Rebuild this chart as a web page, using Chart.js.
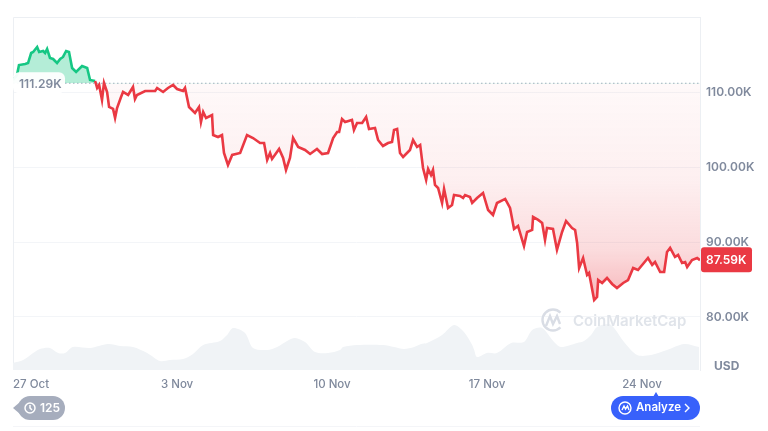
<!DOCTYPE html>
<html>
<head>
<meta charset="utf-8">
<style>
  html, body { margin: 0; padding: 0; background: #fff; overflow: hidden; }
  canvas { display: block; }
</style>
<script src="https://cdn.jsdelivr.net/npm/chart.js@4"></script>
</head>
<body>
<canvas id="grafico" width="768" height="431"></canvas>
<script>
// days since 27 Oct
const priceDays = [-0.41,-0.23,-0.14,0.14,0.27,0.41,0.5,0.68,0.77,0.95,1.04,1.13,1.26,1.4,1.58,1.72,1.85,1.99,2.12,2.26,2.44,2.71,2.94,3.07,3.3,3.39,3.48,3.61,3.7,3.84,3.93,4.11,4.2,4.29,4.47,4.56,4.79,5.01,5.1,5.19,5.56,6.01,6.1,6.37,6.59,6.82,7.0,7.27,7.36,7.54,7.81,7.99,8.08,8.18,8.31,8.58,8.63,8.85,9.03,9.12,9.3,9.49,9.85,10.16,10.43,10.75,10.93,11.07,11.2,11.29,11.61,11.79,11.92,12.1,12.24,12.47,12.78,13.01,13.32,13.55,13.82,14.05,14.23,14.32,14.45,14.59,14.9,14.99,15.13,15.36,15.54,15.67,15.94,16.08,16.3,16.53,16.71,16.8,16.94,17.07,17.21,17.52,17.66,17.84,17.98,18.11,18.25,18.34,18.47,18.56,18.65,18.79,18.97,19.06,19.24,19.42,19.51,19.78,19.92,20.01,20.23,20.33,20.55,20.82,21.05,21.27,21.45,21.82,22.04,22.22,22.4,22.67,22.81,23.04,23.08,23.31,23.49,23.62,23.71,23.98,24.16,24.39,24.57,24.84,24.98,25.07,25.16,25.34,25.52,25.61,25.84,25.97,26.02,26.2,26.42,26.65,26.87,27.15,27.37,27.6,27.82,28.27,28.46,28.59,28.82,29.0,29.13,29.27,29.49,29.63,29.81,29.95,30.04,30.26,30.49,30.62];
// price in thousands of USD
const priceValues = [111.73,112.4,113.73,113.87,114.0,115.34,115.48,116.14,115.48,115.61,115.34,115.88,114.67,114.54,114.0,114.54,114.81,115.61,115.48,113.33,112.8,113.6,113.33,111.73,111.59,110.66,111.06,109.05,111.33,110.12,108.11,107.85,106.64,107.98,109.45,110.12,109.72,110.79,109.18,109.72,110.25,110.25,110.66,110.12,110.66,111.06,110.52,110.25,110.66,108.11,107.31,108.11,106.1,107.44,106.64,107.04,104.36,104.1,104.36,101.95,100.35,101.69,101.95,104.36,103.96,103.29,103.29,101.02,101.95,101.15,102.49,101.29,99.68,101.29,103.96,102.76,102.36,101.82,102.49,101.82,101.95,103.96,104.77,104.77,106.51,106.1,106.37,105.03,105.97,105.97,106.77,105.17,105.3,103.69,102.89,103.29,103.43,105.03,105.17,101.95,101.42,102.36,103.69,102.76,103.03,99.95,98.34,99.81,99.01,99.68,97.67,97.27,95.26,97.14,94.59,94.99,96.33,96.2,95.93,96.33,96.06,95.26,95.93,96.6,94.32,93.65,95.26,95.8,94.59,91.78,92.18,89.5,91.38,91.65,93.39,92.99,92.58,90.31,91.91,91.78,88.97,91.38,92.85,91.91,91.65,89.91,86.56,87.9,85.62,85.89,82.28,82.68,84.95,84.55,85.22,84.42,83.88,84.55,84.95,86.56,86.29,87.9,86.96,87.36,86.02,86.02,88.7,89.24,88.03,88.3,87.23,87.36,86.69,87.63,87.9,87.59];
const baseValue = 111.29;
const lastValue = 87.59;

const volumeDays = [-0.41,0.05,0.5,0.81,1.26,1.63,1.94,2.3,3.07,3.88,4.43,5.01,5.65,6.23,6.68,7.27,7.72,8.18,8.94,9.26,9.53,10.07,10.43,11.07,11.52,11.97,12.33,12.78,13.23,13.82,14.36,14.5,15.13,16.3,16.8,17.25,17.71,18.02,18.29,18.97,19.51,19.96,20.33,20.42,20.55,21.0,21.45,22.09,22.67,23.04,23.49,24.03,24.34,25.07,25.38,25.7,25.97,26.51,26.74,27.19,27.78,28.41,29.13,29.9,30.58];
// volume in billions of USD (estimated, no scale in the picture)
const volumeValues = [14,20,34,42,44,34,34,46,44,52,48,46,34,18,20,22,32,50,58,70,84,74,44,40,46,58,64,56,36,34,40,46,50,50,46,42,46,52,54,70,90,76,50,40,26,34,34,54,56,80,84,56,46,54,58,70,86,92,84,56,30,30,40,52,46,42];

const dateTicks = [0, 7, 14, 21, 28];
const dateLabels = ["27 Oct", "3 Nov", "10 Nov", "17 Nov", "24 Nov"];
const priceTicks = [80, 90, 100, 110];

const verde = "#16c784";
const vermelho = "#ea3943";
const cinza = "#808a9d";
const fonte = "Inter, sans-serif";

function paresXY(xs, ys) {
  return xs.map((x, i) => ({ x: x, y: ys[i] }));
}

function pill(ctx, x, y, w, h, r, cor) {
  ctx.fillStyle = cor;
  ctx.beginPath();
  ctx.roundRect(x, y, w, h, r);
  ctx.fill();
}

// labels, badges and buttons around the plot
const extras = {
  id: "extras",
  afterDraw(chart) {
    const ctx = chart.ctx;
    const sx = chart.scales.x;
    const sy = chart.scales.y;
    ctx.save();
    ctx.textBaseline = "middle";

    // date labels
    ctx.font = "500 11.5px " + fonte;
    ctx.fillStyle = "#7f899c";
    dateTicks.forEach((d, i) => {
      ctx.textAlign = i === 0 ? "left" : "center";
      const px = i === 0 ? chart.chartArea.left : sx.getPixelForValue(d);
      ctx.fillText(dateLabels[i], px, 385);
    });

    // start price badge
    const yBase = sy.getPixelForValue(baseValue);
    pill(ctx, 13, yBase - 11, 52, 21, 6, "rgba(255,255,255,0.95)");
    ctx.font = "600 12px " + fonte;
    ctx.fillStyle = cinza;
    ctx.textAlign = "left";
    ctx.fillText(baseValue.toFixed(2) + "K", 19, yBase + 1);

    // last price tag
    const yLast = sy.getPixelForValue(lastValue);
    pill(ctx, 701, yLast - 13, 51, 25, 3, vermelho);
    ctx.fillStyle = "#fff";
    ctx.font = "600 12px " + fonte;
    ctx.fillText(lastValue.toFixed(2) + "K", 706, yLast);

    // USD
    ctx.fillStyle = cinza;
    ctx.font = "700 12px " + fonte;
    ctx.fillText("USD", 714, 366);

    // watermark
    ctx.strokeStyle = "#d9dde5";
    ctx.lineWidth = 2.4;
    ctx.beginPath();
    ctx.arc(553, 320, 10.5, 0.25 * Math.PI, 1.75 * Math.PI, false);
    ctx.stroke();
    ctx.beginPath();
    ctx.moveTo(546, 326);
    ctx.lineTo(550, 316);
    ctx.lineTo(553, 324);
    ctx.lineTo(557, 316);
    ctx.lineTo(560, 324);
    ctx.stroke();
    ctx.fillStyle = "#e0e4ea";
    ctx.font = "600 15px " + fonte;
    ctx.fillText("CoinMarketCap", 573, 321);

    // history pill
    pill(ctx, 18, 396, 47, 24, 12, "#a6adbd");
    ctx.beginPath();
    ctx.moveTo(13, 408);
    ctx.lineTo(20, 402);
    ctx.lineTo(20, 414);
    ctx.closePath();
    ctx.fill();
    ctx.strokeStyle = "#fff";
    ctx.lineWidth = 1.5;
    ctx.beginPath();
    ctx.arc(30, 408, 5, 0, Math.PI * 2);
    ctx.moveTo(30, 405);
    ctx.lineTo(30, 408);
    ctx.lineTo(32, 410);
    ctx.stroke();
    ctx.fillStyle = "#fff";
    ctx.font = "600 12px " + fonte;
    ctx.fillText("125", 40, 408);

    // analyze button
    pill(ctx, 611, 396, 89, 24, 12, "#3861fb");
    ctx.beginPath();
    ctx.moveTo(653, 397);
    ctx.lineTo(656, 392);
    ctx.lineTo(659, 397);
    ctx.closePath();
    ctx.fill();
    ctx.strokeStyle = "#fff";
    ctx.lineWidth = 1.4;
    ctx.beginPath();
    ctx.arc(625, 408, 6, 0, Math.PI * 2);
    ctx.moveTo(622, 410);
    ctx.lineTo(624, 406);
    ctx.lineTo(625.5, 409);
    ctx.lineTo(627.5, 406);
    ctx.lineTo(629, 410);
    ctx.stroke();
    ctx.beginPath();
    ctx.moveTo(685, 404);
    ctx.lineTo(689, 408);
    ctx.lineTo(685, 412);
    ctx.stroke();
    ctx.fillStyle = "#fff";
    ctx.font = "600 11.5px " + fonte;
    ctx.fillText("Analyze", 636, 408);

    // faint line under the chart
    ctx.strokeStyle = "#f4f5f8";
    ctx.lineWidth = 1;
    ctx.beginPath();
    ctx.moveTo(13, 426.5);
    ctx.lineTo(700, 426.5);
    ctx.stroke();
    ctx.restore();
  },
};

const ctx = document.getElementById("grafico").getContext("2d");

const gradVerm = ctx.createLinearGradient(0, 85, 0, 300);
gradVerm.addColorStop(0, "rgba(234,57,67,0.03)");
gradVerm.addColorStop(0.44, "rgba(234,57,67,0.08)");
gradVerm.addColorStop(0.77, "rgba(234,57,67,0.18)");
gradVerm.addColorStop(1, "rgba(234,57,67,0.36)");

new Chart(ctx, {
  type: "line",
  data: {
    datasets: [
      {
        label: "Price",
        data: paresXY(priceDays, priceValues),
        yAxisID: "y",
        order: 1,
        borderWidth: 2.6,
        borderColor: vermelho,
        segment: {
          borderColor: (c) =>
            c.p0.parsed.y >= baseValue && c.p1.parsed.y >= baseValue ? verde : vermelho,
        },
        pointRadius: 0,
        tension: 0,
        fill: {
          target: { value: baseValue },
          above: "rgba(22,199,132,0.32)",
          below: gradVerm,
        },
      },
      {
        label: "Base",
        data: paresXY([priceDays[0], priceDays[priceDays.length - 1]], [baseValue, baseValue]),
        yAxisID: "y",
        order: 2,
        borderWidth: 1,
        borderColor: "#a6b0c3",
        borderDash: [1.5, 2.5],
        pointRadius: 0,
        fill: false,
      },
      {
        label: "Volume",
        data: paresXY(volumeDays, volumeValues),
        yAxisID: "y2",
        order: 3,
        borderWidth: 0,
        backgroundColor: "#f0f3f6",
        pointRadius: 0,
        tension: 0.3,
        fill: "origin",
      },
    ],
  },
  options: {
    responsive: false,
    animation: false,
    layout: { padding: { left: 13, top: 17 } },
    plugins: { legend: { display: false }, tooltip: { enabled: false } },
    scales: {
      x: {
        type: "linear",
        min: -0.41,
        max: 30.62,
        grid: { display: false },
        border: { display: false },
        ticks: { display: false },
        afterFit(scale) {
          scale.height = 61;
        },
      },
      y: {
        position: "right",
        min: 72.9,
        max: 120.16,
        afterBuildTicks(scale) {
          scale.ticks = priceTicks.map((v) => ({ value: v }));
        },
        afterFit(scale) {
          scale.width = 68;
        },
        grid: { color: "#f3f5f8", drawTicks: false },
        border: { color: "#eceff3" },
        ticks: {
          padding: 6,
          color: cinza,
          font: { family: fonte, size: 12, weight: "600" },
          callback: (v) => v.toFixed(2) + "K",
        },
      },
      y2: {
        display: false,
        min: 0,
        max: 706,
      },
    },
  },
  plugins: [
    extras,
    {
      id: "molduras",
      beforeDatasetsDraw(chart) {
        const a = chart.chartArea;
        const c = chart.ctx;
        c.save();
        c.strokeStyle = "#eceff3";
        c.lineWidth = 1;
        c.beginPath();
        c.moveTo(a.left + 0.5, a.bottom);
        c.lineTo(a.left + 0.5, a.top + 0.5);
        c.lineTo(a.right, a.top + 0.5);
        c.stroke();
        c.restore();
      },
    },
  ],
});
</script>
</body>
</html>
